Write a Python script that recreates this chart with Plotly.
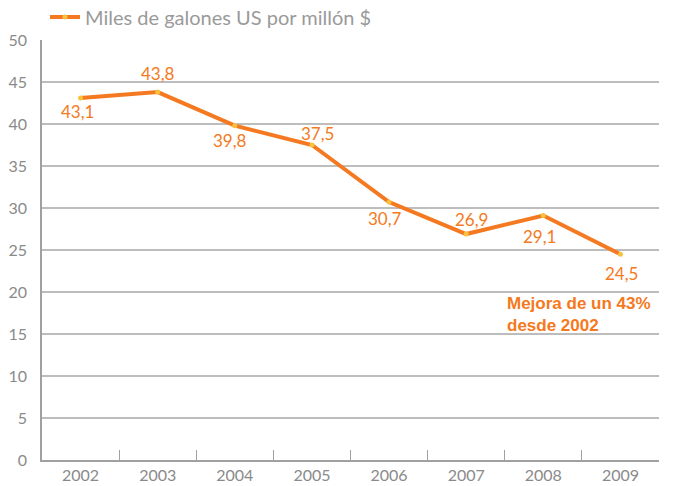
import plotly.graph_objects as go

years = ["2002", "2003", "2004", "2005", "2006", "2007", "2008", "2009"]
values = [43.1, 43.8, 39.8, 37.5, 30.7, 26.9, 29.1, 24.5]
labels = ["43,1", "43,8", "39,8", "37,5", "30,7", "26,9", "29,1", "24,5"]
series_name = "Miles de galones US por millón $"
note = "Mejora de un 43%<br>desde 2002"

# label offsets in pixels (dx, dy upward positive)
label_dx = [-3, 0, -5, 6, -4, 5, -4, 1]
label_dy = [-14, 19, -15, 12, -16, 15, -21, -19]

ORANGE = "#f47920"
GRAY = "#8a8a8a"
GRID = "#bdbdbd"
FONT = "Lato, Open Sans, sans-serif"

fig = go.Figure()
fig.add_trace(go.Scatter(
    x=years, y=values, name=series_name,
    mode="lines+markers",
    line=dict(color=ORANGE, width=4),
    marker=dict(color="#f9c23c", size=5, line=dict(width=0)),
    cliponaxis=False,
))

for i, (v, t, dx, dy) in enumerate(zip(values, labels, label_dx, label_dy)):
    fig.add_annotation(
        xref="x", yref="y", x=i, y=v, text=t, showarrow=False,
        xshift=dx, yshift=dy, xanchor="center", yanchor="middle",
        font=dict(color=ORANGE, size=17, family=FONT),
    )

fig.add_annotation(
    xref="x", yref="y", x=5.5, y=20.05, text="<b>" + note + "</b>",
    showarrow=False, xanchor="left", yanchor="top", align="left",
    font=dict(color=ORANGE, size=17, family="Liberation Sans, Arial, sans-serif"),
)

fig.update_layout(
    width=673, height=486,
    margin=dict(l=42, r=14, t=40, b=26, autoexpand=False),
    paper_bgcolor="white", plot_bgcolor="white",
    font=dict(family=FONT, color=GRAY, size=16),
    showlegend=True,
    legend=dict(xref="container", yref="container", x=45 / 673, y=1 - 17 / 486,
                xanchor="left", yanchor="middle",
                orientation="h", font=dict(size=20, color="#9a9a9a", family=FONT),
                itemwidth=30, bgcolor="rgba(0,0,0,0)", borderwidth=0),
    xaxis=dict(
        type="category", showgrid=False, showline=True, linecolor="#a0a0a0",
        linewidth=1.5, ticks="inside", ticklen=10, tickcolor="#a0a0a0",
        tickwidth=1.2, tickson="boundaries", tickfont=dict(color=GRAY, size=16),
        range=[-0.5, 7.5], ticklabelstandoff=0,
    ),
    yaxis=dict(
        range=[0, 50], dtick=5, showgrid=True, gridcolor=GRID, gridwidth=1.5,
        showline=True, linecolor="#a0a0a0", linewidth=1.5, zeroline=False,
        ticks="", tickfont=dict(color=GRAY, size=16), ticklabelstandoff=10,
    ),
)

fig.write_html("out.html", config={"displayModeBar": False},
               post_script="document.body.style.margin='0';")
